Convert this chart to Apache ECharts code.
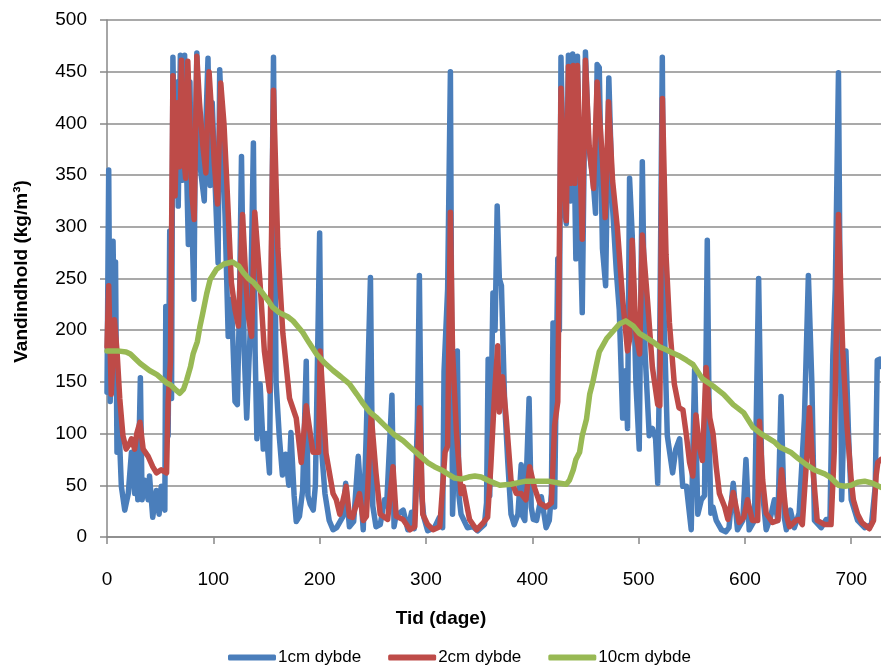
<!DOCTYPE html>
<html>
<head>
<meta charset="utf-8">
<script src="https://cdn.jsdelivr.net/npm/echarts@6/dist/echarts.min.js"></script>
<style>
html,body{margin:0;padding:0;background:#fff;}
#chart{width:881px;height:670px;}
</style>
</head>
<body>
<div id="chart"></div>
<script>
// ---- data: [day, value] ----
const seriesNames = ['1cm dybde', '2cm dybde', '10cm dybde'];
const xTicks = [0, 100, 200, 300, 400, 500, 600, 700];
const yTicks = [0, 50, 100, 150, 200, 250, 300, 350, 400, 450, 500];

const depth1cm = [[0,140],[1.6,355],[3,131],[5.7,286],[7,180],[8,266],[9.4,82],[11,115],[13.5,49],[16.7,26],[20,42],[23,82],[26,42],[27.7,82],[29,36],[31.4,154],[33,36],[35.5,55],[38.7,36],[40,59],[43,19],[46.5,45],[49,22],[51,49],[54.4,26],[55.3,223],[57.5,98],[59,296],[60.7,134],[62,464],
[64,330],[66,440],[67,320],[69,466],[71,345],[73,466],[75,350],[76.5,283],[78,440],[80,300],[81.8,230],[83,380],[84.5,468],[86,400],[88,355],[91.5,325],[93,400],[95,463],[97,340],[99,420],[101,360],[104.5,265],[106,452],[108,400],[111,312],
[114,194],[117,230],[120.4,131],[122.6,128],[124.5,220],[126.5,368],[129,180],[131.4,115],[134.6,197],[137.7,381],[139.3,180],[141,95],[144,148],[147,85],[150,100],[152.8,62],[156.6,464],
[159,150],[162,98],[165,60],[168,80],[171,50],[173,101],[176,40],[178,15],[181,20],[184,45],[187.4,170],[189,40],[191,32],[194,26],[196,50],[200,294],[202,82],[205,42],[209,16],[212.6,7],[216,9],[222,20],[224.5,52],[228,10],[232,15],[236.3,78],[241,7],[244,105],[247.8,251],[250,30],[253,10],[257,12],[261,36],[263,30],[268,137],[270,10],[272,22],[275,23],[278.6,26],[283,7],[286.5,24],[289,8],[292,115],[293.8,253],
[296,40],[298,19],[301.6,6],[308,9],[312.6,19],[315.7,9],[317,160],[320.4,240],[323,450],[325,22],[328,110],[329.5,180],[331,40],[333,22],[339,9],[344,10],[348.7,6],[355,12],[357,33],[358.5,172],[360,40],[363,236],[365,200],[367,320],[369,250],[371,243],[374,130],[377,72],[380,22],[383,12],[386.5,22],[389.6,70],[391,20],[393,16],[397,134],[399,29],[401,17],[404,16],[408.5,39],[413,9],[416,16],[418,42],[419.5,207],[421,29],[422.6,29],[424,269],[425.5,200],[427,464],[430,320],[432,303],[434,466],
[436,325],[438,467],[441,269],[442.5,465],[445,300],[447,217],[450,469],[453,380],[455,362],[457,348],[459.5,313],[461,457],[463,454],[466,279],[469,243],[472,444],[475.5,319],[479,258],[481.8,220],[485,115],[488,161],[489.6,105],[491.5,347],[494,292],[497.5,148],[500.6,85],[503.5,363],[506,180],[510,98],[513,105],[516,95],[518,52],[519.5,148],[522.3,464],[524,213],[527,98],
[532,62],[535,85],[538.6,95],[541.5,49],[545,49],[549.5,7],[552.7,162],[555.7,22],[559,36],[562,40],[564.6,287],[566.7,82],[568,23],[570,29],[573,16],[578,7],[582,5],[585,9],
[589,52],[593,7],[598,16],[601,75],[604,7],[609,16],[612.9,250],[616,49],[620,7],[624,19],[627.7,36],[631,16],[634,136],[637,19],[639,7],[642.8,26],[646.5,9],[651,23],[656,115],[659.7,253],[663,148],[665.4,16],[671.7,9],[676.5,17],[680,16],[682.7,175],[685,240],[688,449],[691,36],[695,180],[697.5,98],[700,36],[706,16],[712.6,9],[719,12],[722.6,49],[724.5,171],[726.7,172],[728,165]];

const depth2cm = [[0,184],[1.6,243],[4,138],[7,210],[9.4,180],[12,134],[15,98],[18,85],[21,90],[23,95],[26,85],[28,100],[31,111],[34,85],[38.7,78],[43,68],[46.5,62],[51,65],[56,62],[57.5,131],[59.7,170],[62,446],[64,330],[66,420],[68,358],[70,461],[72,370],[74,347],[76,460],[78,400],[80,330],[82,307],[84.5,465],[87,420],[90,380],[93,352],[96,450],[99,400],[101,360],[104,322],[107,439],[110,400],[112.6,345],[117,246],[120.4,220],[123.6,204],[127.5,312],[131,240],[133,213],[136,194],[139,314],[144,245],[148,180],[152.8,141],[156.6,432],[160.7,279],[165.4,197],[171.7,134],[178,115],[182.7,72],[187.4,127],[189,128],[193.7,82],[199,82],[200.5,180],[206,81],[212.6,42],[215.7,36],[219,22],[225,49],[228,20],[231,19],[237.5,42],[241,16],[244,20],[248.5,118],[253,62],[257,22],[264,17],[269,68],[272,20],[278.5,17],[285,7],[289.5,10],[294,125],[297,22],[301.6,12],[306.7,7],[313,10],[318,82],[320.4,88],[323,314],[325,180],[328.7,101],[333,42],[335,49],[341,17],[347.6,7],[354,14],[358,19],[361,68],[364.5,138],[367.5,185],[369,121],[372,155],[375.5,115],[380,55],[385,42],[389.6,42],[394,36],[397.5,68],[402,48],[407,33],[413,29],[418,33],[421,108],[424,131],[427,434],[430.5,339],[432,306],[434,455],[436,342],[438.5,456],[440,342],[442.5,456],[447,288],[450,461],[453.5,378],[457.6,337],[461,440],[466,365],[468.6,309],[471.7,421],[475.5,345],[480,299],[485,230],[489.6,180],[491.5,191],[494,287],[497.5,197],[501,177],[503.5,292],[508.5,227],[513,164],[518,128],[520,127],[522.4,424],[525.8,273],[529,207],[533.6,148],[538,125],[541.7,123],[545,98],[548,72],[551,59],[554,118],[557,88],[560,74],[563.5,164],[567,115],[570,100],[573,68],[576,42],[581,29],[584,17],[589,43],[594.6,14],[599,19],[602.5,36],[607,16],[612,16],[613.7,112],[616.7,55],[620,23],[626,14],[631,16],[634.5,65],[638.7,22],[642,10],[648,16],[651,17],[654,12],[658.5,82],[660.7,125],[664,65],[668,16],[675,12],[681,12],[684,82],[688,312],[692,180],[696,108],[700,55],[702,36],[706,22],[710,14],[717,8],[721,16],[723.5,60],[725,72],[728,75]];

const depth10cm = [[0,180],[10,180],[18,179],[22,177],[31,168],[40,161],[47,157],[56,149],[60,147],[65,142],[68.5,139],[72,143],[75,152],[78.6,165],[81,177],[85,189],[87.5,204],[90,216],[93.7,235],[97,249],[103,259],[110,264],[118,266],[124,262],[128,256],[133,250],[138,246],[143,240],[147,235],[152,228],[156,222],[162,217],[170,213],[175,209],[184,198],[190,188],[197,177],[205,168],[212.6,161],[220,155],[228,148],[235,138],[241,129],[247,121],[253,116],[263,106],[270,99],[278.6,93],[285,87],[294,79],[301.6,72],[308,68],[316,64],[322,60],[327,57],[333,56],[340,58],[346,59],[352,58],[360,54],[369.5,50],[380,51],[394,54],[405,54],[415,54],[426,52],[432,51],[435,55],[438.6,65],[441,75],[444.5,82],[447,98],[451,114],[454,138],[457,150],[460,165],[463,179],[470,192],[476,199],[482,206],[488,209],[495,204],[500.6,197],[507,193],[513,189],[519.5,184],[526,181],[532,178],[538.6,175],[545,171],[551,167],[560,153],[570,146],[580,138],[589,128],[599,120],[607.5,106],[615,100],[627.7,92],[632.6,87],[643,82],[650,76],[657.7,70],[665,65],[675,61],[680,58],[688,50],[694,49],[700,50],[706,53],[712.6,54],[720,52],[728,48]];

const colors = ['#4A7EBB', '#BE4B48', '#98B954'];
const FONT = '"Liberation Sans", Arial, sans-serif';

const chart = echarts.init(document.getElementById('chart'), null, {renderer: 'canvas'});

function mkSeries(name, data, color, z) {
  return {
    name: name, type: 'line', data: data, showSymbol: false, symbol: 'none',
    smooth: false, z: z, animation: false,
    lineStyle: {color: color, width: 5.5, cap: 'round', join: 'round'},
    itemStyle: {color: color}
  };
}

chart.setOption({
  animation: false,
  color: colors,
  textStyle: {fontFamily: FONT},
  grid: {left: 107, right: 0, top: 20, bottom: 133, containLabel: false},
  xAxis: {
    type: 'value', min: 0, max: 728, interval: 100,
    name: 'Tid (dage)', nameLocation: 'middle', nameGap: 72,
    nameTextStyle: {fontFamily: FONT, fontSize: 19, fontWeight: 'bold', color: '#000', padding: [0, 106, 0, 0]},
    axisLine: {show: true, lineStyle: {color: '#888', width: 1.5}},
    axisTick: {show: true, length: 7, lineStyle: {color: '#888', width: 1.5}},
    axisLabel: {
      fontFamily: FONT, fontSize: 19, color: '#000', margin: 33, showMaxLabel: false,
      formatter: function (v) { return xTicks.indexOf(v) >= 0 ? String(v) : ''; }
    },
    splitLine: {show: false}
  },
  yAxis: {
    type: 'value', min: 0, max: 500, interval: 50,
    name: 'Vandindhold (kg/m\u00B3)', nameLocation: 'middle', nameGap: 76, nameRotate: 90,
    nameTextStyle: {fontFamily: FONT, fontSize: 19, fontWeight: 'bold', color: '#000', padding: [0, 0, 0, 14]},
    axisLine: {show: true, lineStyle: {color: '#888', width: 1.5}},
    axisTick: {show: true, length: 7, lineStyle: {color: '#888', width: 1.5}},
    axisLabel: {
      fontFamily: FONT, fontSize: 19, color: '#000', margin: 20,
      formatter: function (v) { return yTicks.indexOf(v) >= 0 ? String(v) : ''; }
    },
    splitLine: {show: true, lineStyle: {color: '#8C8C8C', width: 1.5}}
  },
  legend: {
    show: true, top: 644, left: 223,
    itemWidth: 48, itemHeight: 6, itemGap: 27,
    icon: 'roundRect',
    textStyle: {fontFamily: FONT, fontSize: 17, color: '#000', padding: [0, 0, 0, -3]},
    data: seriesNames
  },
  series: [
    mkSeries(seriesNames[0], depth1cm, colors[0], 2),
    mkSeries(seriesNames[1], depth2cm, colors[1], 3),
    mkSeries(seriesNames[2], depth10cm, colors[2], 4)
  ]
});
</script>
</body>
</html>
